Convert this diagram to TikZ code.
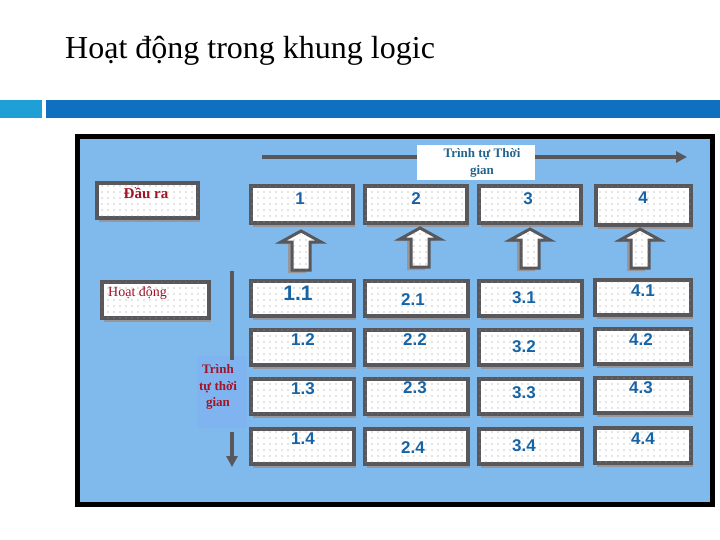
\documentclass[tikz,border=0pt]{standalone}
\usepackage{fontspec}
\setmainfont{Liberation Serif}
\newfontfamily\numfont{Liberation Sans}
\usetikzlibrary{arrows.meta,patterns.meta,shadows}
\definecolor{bgblue}{RGB}{128,186,236}
\definecolor{barblue}{RGB}{16,112,192}
\definecolor{barlight}{RGB}{30,160,215}
\definecolor{edgegray}{RGB}{88,88,92}
\definecolor{shadgray}{RGB}{150,150,155}
\definecolor{numblue}{RGB}{22,100,165}
\definecolor{darkred}{RGB}{160,20,40}
\definecolor{tealtxt}{RGB}{35,100,140}
\definecolor{txtbg}{RGB}{128,180,240}
\tikzdeclarepattern{
  name=sparsedots,
  type=uncolored,
  bottom left={(-1pt,-1pt)},
  top right={(5pt,5pt)},
  tile size={(6pt,6pt)},
  code={\pgfpathcircle{\pgfpointorigin}{0.65pt}\pgfusepath{fill}}
}
\tikzset{
  cell/.style={draw=edgegray, line width=4pt, fill=white,
    postaction={pattern=sparsedots, pattern color=gray!90},
    general shadow={fill=shadgray, shadow xshift=2pt, shadow yshift=-4pt},
    inner sep=0pt},
  num/.style={text=numblue, font=\numfont\bfseries\fontsize{17}{19}\selectfont, inner sep=0pt},
  bignum/.style={text=numblue, font=\numfont\bfseries\fontsize{21}{23}\selectfont, inner sep=0pt},
  timeline/.style={draw=edgegray, line width=4pt, -{Triangle[length=11pt,width=11pt]}},
  blockarr/.style={draw=edgegray, line width=3pt, fill=white, line join=miter,
    postaction={pattern=sparsedots, pattern color=gray!90}},
}
\begin{document}
\begin{tikzpicture}[x=1pt,y=-1pt]
\useasboundingbox (0,0) rectangle (720,540);
% title
\node[anchor=base west, inner sep=0pt, font=\fontsize{32}{34}\selectfont] (title) at (65,59) {Hoạt động trong khung logic};
% bars
\fill[barlight] (0,100) rectangle (42,118);
\fill[barblue] (46,100) rectangle (720,118);
% outer frame
\draw[black, line width=5pt, fill=bgblue] (77,137) rectangle (712,504);
% highlight behind vertical label
\fill[txtbg] (197,356) rectangle (247,428);
% horizontal timeline
\coordinate (hs) at (262,157);
\coordinate (he) at (687,157);
\draw[timeline] (hs) -- (he);
\node[fill=white, minimum width=118pt, minimum height=35pt, inner sep=0pt] (hlabbox) at (475.5,162.5) {};
\node[text=tealtxt, font=\bfseries\fontsize{13}{17}\selectfont, align=center, inner sep=0pt] (hlab) at (482,163) {Trình tự Thời\\gian};
% vertical timeline
\coordinate (vs) at (232,271);
\coordinate (vm) at (232,360);
\coordinate (vn) at (232,432);
\coordinate (ve) at (232,467);
\draw[draw=edgegray, line width=4pt] (vs) -- (vm);
\draw[timeline] (vn) -- (ve);
\node[text=darkred, font=\bfseries\fontsize{13}{16.5}\selectfont, align=center, inner sep=0pt] (vlab) at (218,387) {Trình\\tự thời\\gian};
% left labels
\node[cell, minimum width=101pt, minimum height=35pt] (dauraBox) at (147.5,200.5) {};
\node[text=darkred, font=\bfseries\fontsize{15}{17}\selectfont, inner sep=0pt] (daura) at (146,193) {Đầu ra};
\node[cell, minimum width=107pt, minimum height=36pt] (hdBox) at (155.5,300) {};
\node[text=darkred, font=\fontsize{14}{16}\selectfont, anchor=west, inner sep=0pt] (hd) at (108,293) {Hoạt động};
% output row
\node[cell, minimum width=102pt, minimum height=37pt] (o1) at (302,205) {};
\node[cell, minimum width=102pt, minimum height=37pt] (o2) at (416,205) {};
\node[cell, minimum width=102pt, minimum height=37pt] (o3) at (530,205) {};
\node[cell, minimum width=95pt, minimum height=39pt] (o4) at (643,206) {};
\node[num] (to1) at (300,199) {1};
\node[num] (to2) at (416,199) {2};
\node[num] (to3) at (528,199) {3};
\node[num] (to4) at (643,198) {4};
% block arrows
\foreach \cx/\tip in {301/231, 420/228, 530/229, 640/229}{
  \fill[shadgray] ([xshift=-4pt]\cx,\tip+2) -- ++(20,11) -- ++(-11,0) -- ++(0,29) -- ++(-18,0) -- ++(0,-29) -- ++(-11,0) -- cycle;
  \draw[blockarr] (\cx,\tip) -- ++(20,11) -- ++(-11,0) -- ++(0,28) -- ++(-18,0) -- ++(0,-28) -- ++(-11,0) -- cycle;
}
% activity rows
\foreach \r/\yc in {1/298, 2/347, 3/396, 4/446}{
  \node[cell, minimum width=103pt, minimum height=35pt] (c1\r) at (302,\yc) {};
  \node[cell, minimum width=103pt, minimum height=35pt] (c2\r) at (416,\yc) {};
  \node[cell, minimum width=103pt, minimum height=35pt] (c3\r) at (530,\yc) {};
  \node[cell, minimum width=96pt, minimum height=35pt] (c4\r) at (643,\yc-1) {};
}
\node[bignum] (t11) at (298,293) {1.1};
\node[num] (t21) at (413,300) {2.1};
\node[num] (t31) at (524,298) {3.1};
\node[num] (t41) at (643,291) {4.1};
\node[num] (t12) at (303,340) {1.2};
\node[num] (t22) at (415,340) {2.2};
\node[num] (t32) at (524,347) {3.2};
\node[num] (t42) at (641,340) {4.2};
\node[num] (t13) at (303,389) {1.3};
\node[num] (t23) at (415,388) {2.3};
\node[num] (t33) at (524,393) {3.3};
\node[num] (t43) at (641,388) {4.3};
\node[num] (t14) at (303,439) {1.4};
\node[num] (t24) at (413,448) {2.4};
\node[num] (t34) at (524,446) {3.4};
\node[num] (t44) at (643,439) {4.4};
\end{tikzpicture}
\end{document}
